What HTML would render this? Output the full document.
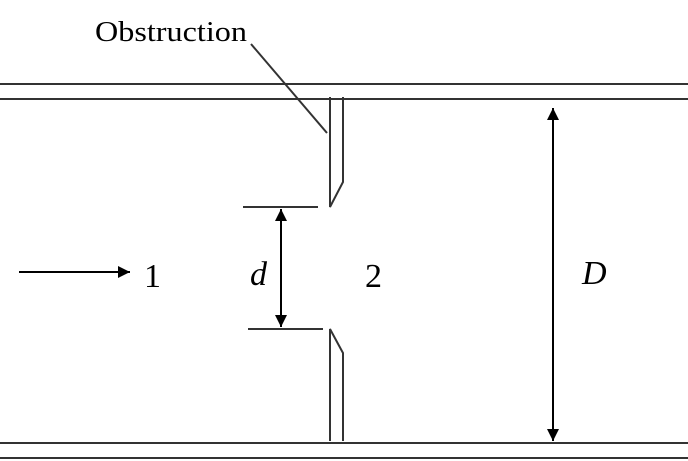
<!DOCTYPE html>
<html><head><style>html,body{margin:0;padding:0;background:#fff;}svg{display:block}</style></head>
<body>
<svg width="688" height="461" viewBox="0 0 688 461" xmlns="http://www.w3.org/2000/svg">
<defs>
<marker id="a" viewBox="0 0 10 10" refX="10" refY="5" markerWidth="12" markerHeight="12" markerUnits="userSpaceOnUse" orient="auto-start-reverse">
<path d="M0,0 L10,5 L0,10 z" fill="#000"/></marker>
</defs>
<g stroke="#333" stroke-width="2" fill="none">
<line x1="0" y1="84" x2="688" y2="84"/>
<line x1="0" y1="99" x2="688" y2="99"/>
<line x1="0" y1="443" x2="688" y2="443"/>
<line x1="0" y1="458" x2="688" y2="458"/>
<polyline points="330,97 330,207 343,182 343,97"/>
<polyline points="330,441 330,329 343,353 343,441"/>
<line x1="251" y1="44" x2="327" y2="133"/>
<line x1="243" y1="207" x2="318" y2="207"/>
<line x1="248" y1="329" x2="323" y2="329"/>
</g>
<g stroke="#000" stroke-width="2">
<line x1="281" y1="209" x2="281" y2="327" marker-start="url(#a)" marker-end="url(#a)"/>
<line x1="553" y1="108" x2="553" y2="441" marker-start="url(#a)" marker-end="url(#a)"/>
<line x1="19" y1="272" x2="130" y2="272" marker-end="url(#a)"/>
</g>
<g font-family="Liberation Serif, serif" fill="#000">
<text x="95" y="41" font-size="28" textLength="152" lengthAdjust="spacingAndGlyphs">Obstruction</text>
<text x="144" y="287" font-size="34">1</text>
<text x="250" y="285" font-size="34" font-style="italic">d</text>
<text x="365" y="287" font-size="34">2</text>
<text x="582" y="284" font-size="34" font-style="italic">D</text>
</g>
</svg>
</body></html>
